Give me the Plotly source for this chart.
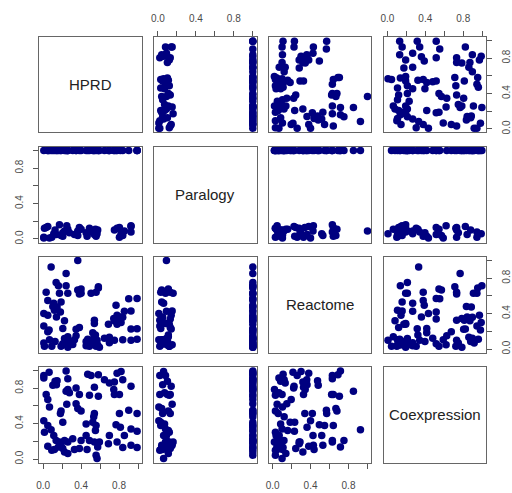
import plotly.graph_objects as go

# Variable names shown on the diagonal
names = ["HPRD", "Paralogy", "Reactome", "Coexpression"]

# Per-gene scores (one entry per gene, same order in every list; None = missing)
hprd = [0.007, 0.063, 0.007, 0.126, 0.140, 0.102, 0.147, 0.242, 0.260, 0.032,
        0.049, 0.067, 0.242, 0.277, 0.260, 0.347, 0.365, 0.382, 0.249, 0.347,
        0.365, 0.400, 0.189, 0.182, 0.207, 0.470, 0.505, 0.582, 0.540, 0.488,
        0.582, 0.646, 0.698, 0.751, 0.779, 0.821, 0.839, 0.926, 0.744, 0.804,
        0.751, 0.540, 0.533, 0.804, 0.902, 0.990, 0.453, 0.523, 0.558, 0.551,
        0.768, 0.814, 0.926, 0.990, 0.007, 0.049, 0.014, 0.084, 0.112, 0.137,
        0.172, 0.189, 0.161, 0.225, 0.260, 0.049, 0.091, 0.119, 0.207, 0.225,
        0.260, 0.312, 0.330, 0.382, 0.400, 0.463, 0.488, 0.540, 0.593, 0.575,
        0.558, 0.568, 0.453, 0.698, 0.688, 0.779, 0.839, 0.856, 0.926, 0.990]

paralogy = [0.02, 1, 1, 0.10, 0.05, 1, 1, 1, 1, 0.13,
            1, 0.01, 1, 0.07, 1, 1, 0.09, 1, 0.15, 1,
            0.04, 0.11, 1, 1, 0.03, 1, 0.08, 1, 1, 0.12,
            1, 1, 1, 1, 1, 0.06, 1, 0.14, 1, 0.02,
            0.10, 0.05, 1, 0.13, 1, 1, 0.07, 1, 0.03, 0.11,
            1, 1, 0.08, 1, 0.01, 1, 0.12, 1, 0.06, 1,
            0.16, 0.04, 1, 0.09, 1, 0.14, 0.02, 1, 0.07, 1,
            0.11, 1, 0.05, 0.13, 1, 0.03, 1, 0.08, 1, 0.10,
            1, 0.06, 1, 1, 1, 0.12, 0.04, 0.09, 0.15, 1]

reactome = [0.259, 0.215, 0.067, 0.085, 0.363, 0.481, 0.474, 0.715, 0.630, 0.640,
            0.196, 0.104, 0.852, 0.067, 0.020, 0.222, 1.000, 0.622, 0.048, 0.150,
            0.667, 0.678, 0.030, 0.419, 0.233, 0.111, 0.630, 0.689, 0.326, 0.030,
            0.704, 0.122, 0.133, 0.319, 0.381, 0.300, 0.360, 0.226, 0.344, 0.326,
            0.100, 0.059, 0.122, 0.340, 0.567, 0.570, 0.085, 0.185, 0.640, 0.159,
            0.493, 0.363, 0.100, 0.230, 0.400, 0.548, 0.030, 0.926, 0.518, 0.752,
            0.630, 0.530, 0.715, 0.120, 0.090, 0.381, 0.030, 0.437, 0.060, 0.319,
            0.140, 0.050, 0.104, 0.244, 0.630, 0.048, 0.060, 0.289, 0.019, 0.045,
            0.030, 0.100, 0.037, 0.070, 0.281, 0.280, 0.104, 0.426, 0.430, 0.110]

coexpression = [0.944, 0.981, 0.915, 0.878, 0.841, 0.833, 0.885, 0.996, 0.907, 0.730,
                0.674, 0.589, 0.767, 0.748, 0.785, 0.804, None, 0.730, 0.619, 0.626,
                0.570, 0.544, 0.544, 0.515, 0.415, 0.959, 0.944, 0.952, 0.811, 0.722,
                0.711, 0.896, 0.859, 0.870, 0.970, 0.989, 0.896, 0.822, 0.785, 0.730,
                0.730, 0.515, 0.478, 0.515, 0.552, 0.515, 0.396, 0.415, 0.378, 0.322,
                0.389, 0.359, 0.341, 0.315, 0.433, 0.378, 0.304, 0.330, 0.267, 0.211,
                0.193, 0.156, 0.137, 0.211, 0.193, 0.144, 0.100, 0.107, 0.119, 0.081,
                0.063, 0.230, 0.107, 0.119, 0.211, 0.107, 0.211, 0.193, 0.193, 0.137,
                0.044, 0.007, 0.267, 0.267, 0.174, 0.193, 0.130, 0.267, 0.156, 0.130]

tick_vals = [0.0, 0.2, 0.4, 0.6, 0.8, 1.0]
tick_text = ["0.0", "", "0.4", "", "0.8", ""]

columns = [hprd, paralogy, reactome, coexpression]
n = len(names)

W, H = 512, 493
col_left = [36.7, 152.6, 268.4, 384.3]
col_w = 103.5
row_top = [37.0, 147.5, 258.0, 368.5]
row_h = 96.0
axis_range = [-0.04, 1.04]

frame_color = "#666666"
tick_color = "#555555"
tick_font = dict(family="Liberation Sans, Arial, sans-serif", size=10, color="#4a4a4a")
label_font = dict(family="Liberation Sans, Arial, sans-serif", size=15, color="#222222")
point_color = "#000080"

fig = go.Figure()
layout = {}
annotations = []

for i in range(n):          # row -> y variable
    for j in range(n):      # column -> x variable
        k = i * n + j + 1
        suffix = "" if k == 1 else str(k)
        xdom = [col_left[j] / W, (col_left[j] + col_w) / W]
        ydom = [1 - (row_top[i] + row_h) / H, 1 - row_top[i] / H]

        xa = dict(domain=xdom, range=axis_range, anchor="y" + suffix,
                  showgrid=False, zeroline=False, showline=True, mirror=True,
                  linecolor=frame_color, linewidth=1.3,
                  tickvals=tick_vals, ticktext=tick_text, tickfont=tick_font,
                  ticks="", showticklabels=False, fixedrange=True)
        ya = dict(domain=ydom, range=axis_range, anchor="x" + suffix,
                  showgrid=False, zeroline=False, showline=True, mirror=True,
                  linecolor=frame_color, linewidth=1.3,
                  tickvals=tick_vals, ticktext=tick_text, tickfont=tick_font,
                  ticks="", showticklabels=False, tickangle=-90, fixedrange=True)

        # outer axes alternate sides, as in a classic scatterplot matrix
        if i == 0 and j % 2 == 1:
            xa.update(side="top", ticks="outside", showticklabels=True,
                      ticklen=5, tickcolor=tick_color, ticklabelstandoff=5)
        if i == n - 1 and j % 2 == 0:
            xa.update(side="bottom", ticks="outside", showticklabels=True,
                      ticklen=5, tickcolor=tick_color, ticklabelstandoff=8)
        if j == 0 and i % 2 == 1:
            ya.update(side="left", ticks="outside", showticklabels=True,
                      ticklen=5, tickcolor=tick_color, ticklabelstandoff=6)
        if j == n - 1 and i % 2 == 0:
            ya.update(side="right", ticks="outside", showticklabels=True,
                      ticklen=5, tickcolor=tick_color, ticklabelstandoff=6)

        layout["xaxis" + suffix] = xa
        layout["yaxis" + suffix] = ya

        if i == j:
            # empty trace keeps the diagonal panel's frame drawn
            fig.add_trace(go.Scatter(
                x=[], y=[], mode="markers",
                xaxis="x" + suffix, yaxis="y" + suffix,
                showlegend=False, hoverinfo="skip"))
            annotations.append(dict(
                text=names[i],
                x=(xdom[0] + xdom[1]) / 2, y=(ydom[0] + ydom[1]) / 2,
                xref="paper", yref="paper",
                xanchor="center", yanchor="middle",
                showarrow=False, font=label_font))
        else:
            fig.add_trace(go.Scatter(
                x=columns[j], y=columns[i], mode="markers",
                xaxis="x" + suffix, yaxis="y" + suffix,
                marker=dict(size=7.5, color=point_color, line=dict(width=0)),
                showlegend=False, hoverinfo="skip", cliponaxis=False))

fig.update_layout(**layout)
fig.update_layout(
    width=W, height=H,
    margin=dict(l=0, r=0, t=0, b=0),
    paper_bgcolor="white", plot_bgcolor="white",
    annotations=annotations,
    showlegend=False,
)

fig.write_html("out.html")
